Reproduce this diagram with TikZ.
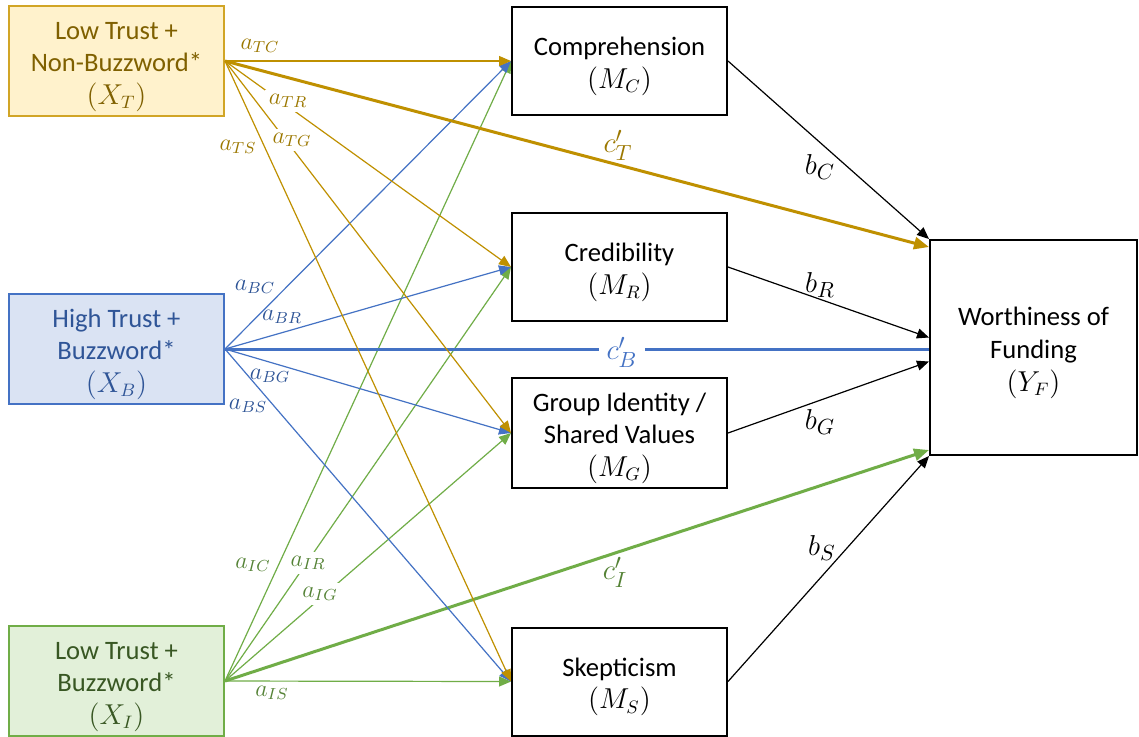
\documentclass[tikz,border=0pt]{standalone}
\usepackage{fontspec}
\setmainfont{Carlito}
\usetikzlibrary{arrows.meta,calc}

% palette
\definecolor{goldline}{HTML}{BF9000}
\definecolor{goldtext}{HTML}{7F6000}
\definecolor{goldlab}{HTML}{9C7800}
\definecolor{goldfill}{HTML}{FFF2CC}
\definecolor{goldedge}{HTML}{D1A526}
\definecolor{blueline}{HTML}{4472C4}
\definecolor{bluetext}{HTML}{2F5597}
\definecolor{bluefill}{HTML}{DAE3F3}
\definecolor{greenline}{HTML}{70AD47}
\definecolor{greentext}{HTML}{385723}
\definecolor{greenlab}{HTML}{548235}
\definecolor{greenfill}{HTML}{E2F0D9}

% taller first line so that the text block sits a little lower in its box
\newcommand{\toppad}{\rule{0pt}{14.5pt}}

\begin{document}
\begin{tikzpicture}[x=0.5pt,y=-0.5pt,
  boxtext/.style={font=\fontsize{13.3}{16.3}\selectfont},
  box/.style={draw=black, line width=1pt, minimum width=107.5pt,
    minimum height=54pt, align=center, inner sep=2pt, boxtext},
  thin/.style={line width=0.6pt, -{Triangle[length=6pt,width=5pt]}},
  thick/.style={line width=1.5pt, -{Triangle[length=7.5pt,width=6pt]}},
  alab/.style={font=\fontsize{12}{14}\selectfont, inner sep=1pt},
  clab/.style={font=\fontsize{15}{17}\selectfont, inner sep=1pt},
  gap/.style={fill=white, inner sep=2pt},
]
\fill[white] (0,0) rectangle (1139,736);
\useasboundingbox (0,0) rectangle (1139,736);

% independent variables
\node[box, draw=goldedge, fill=goldfill, text=goldtext] (XT) at (116.5,61)
  {\toppad Low Trust +\\Non-Buzzword*\\$(X_T)$};
\node[box, draw=blueline, fill=bluefill, text=bluetext] (XB) at (116.5,349)
  {\toppad High Trust +\\Buzzword*\\$(X_B)$};
\node[box, draw=greenline, fill=greenfill, text=greentext] (XI) at (116.5,681)
  {\toppad Low Trust +\\Buzzword*\\$(X_I)$};

% mediators
\node[box] (MC) at (619.5,61)  {\toppad Comprehension\\$(M_C)$};
\node[box] (MR) at (619.5,267) {\toppad Credibility\\$(M_R)$};
\node[box] (MG) at (619.5,433) {\toppad Group Identity /\\Shared Values\\$(M_G)$};
\node[box] (MS) at (619.5,681.5) {\toppad Skepticism\\$(M_S)$};

% outcome
\node[box, minimum width=103.5pt, minimum height=107.5pt] (YF) at (1033.5,347.5)
  {\toppad Worthiness of\\Funding\\$(Y_F)$};

% paths from X_I
\begin{scope}[draw=greenline]
  \draw[thin] (XI.east) -- (MC.west);
  \draw[thin] (XI.east) -- (MR.west);
  \draw[thin] (XI.east) -- (MG.west);
  \draw[thin] (XI.east) -- (MS.west);
  \draw[thick] (XI.east) -- ($(YF.south west)+(0,-6)$);
\end{scope}

% paths from X_B
\begin{scope}[draw=blueline]
  \draw[thin] (XB.east) -- (MC.west);
  \draw[thin] (XB.east) -- (MR.west);
  \draw[thin] (XB.east) -- (MG.west);
  \draw[thin] (XB.east) -- (MS.west);
  \draw[line width=1.5pt] (XB.east) -- (XB.east -| YF.west);
\end{scope}

% paths from X_T
\begin{scope}[draw=goldline]
  \draw[thin] (XT.east) -- (MC.west);
  \draw[thin] (XT.east) -- (MR.west);
  \draw[thin] (XT.east) -- (MG.west);
  \draw[thin] (XT.east) -- (MS.west);
  \draw[thick] (XT.east) -- ($(YF.north west)+(0,8)$);
\end{scope}

% mediator to outcome
\draw[thin, black] (MC.east) -- (YF.north west);
\draw[thin, black] (MR.east) -- ($(YF.west)+(0,-10)$);
\draw[thin, black] (MG.east) -- ($(YF.west)+(0,14)$);
\draw[thin, black] (MS.east) -- (YF.south west);

% coefficient labels: X_T
\node[alab, text=goldlab] (lTC) at (260,46) {$a_{TC}$};
\node[alab, gap, text=goldlab] (lTR) at (288,101) {$a_{TR}$};
\node[alab, gap, text=goldlab] (lTG) at (292,140) {$a_{TG}$};
\node[alab, text=goldlab] (lTS) at (238,147) {$a_{TS}$};
\node[clab, text=goldlab] (lcT) at (618,145) {$c'_T$};

% coefficient labels: X_B
\node[alab, text=bluetext] (lBC) at (255,287) {$a_{BC}$};
\node[alab, text=bluetext] (lBR) at (282,317) {$a_{BR}$};
\node[alab, text=bluetext] (lBG) at (270,376) {$a_{BG}$};
\node[alab, text=bluetext] (lBS) at (248,406) {$a_{BS}$};
\node[clab, gap, text=blueline, inner xsep=4pt] (lcB) at (622,352) {$c'_B$};

% coefficient labels: X_I
\node[alab, text=greenlab] (lIC) at (253,565) {$a_{IC}$};
\node[alab, gap, text=greenlab] (lIR) at (308,563) {$a_{IR}$};
\node[alab, gap, text=greenlab] (lIG) at (320,594) {$a_{IG}$};
\node[alab, text=greenlab] (lIS) at (272,693) {$a_{IS}$};
\node[clab, text=greenlab] (lcI) at (615,572) {$c'_I$};

% coefficient labels: mediators
\node[clab] (lbC) at (820,167) {$b_C$};
\node[clab] (lbR) at (820,285) {$b_R$};
\node[clab] (lbG) at (820,422) {$b_G$};
\node[clab] (lbS) at (822,548) {$b_S$};
\end{tikzpicture}
\end{document}
